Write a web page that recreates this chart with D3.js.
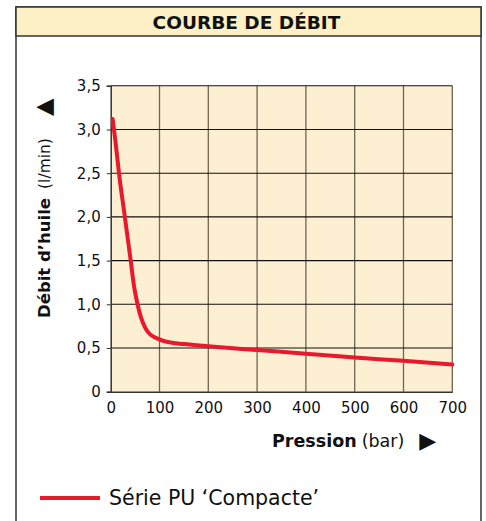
<!DOCTYPE html>
<html>
<head>
<meta charset="utf-8">
<script src="https://cdn.jsdelivr.net/npm/d3@7"></script>
<style>
  body { margin: 0; background: #fff; }
  text { font-family: "DejaVu Sans", sans-serif; fill: #111; }
</style>
</head>
<body>
<svg id="chart" width="486" height="521"></svg>
<script>
// data
const pressure = [4, 10, 17, 29, 41, 48, 55, 62, 70, 80, 95, 120, 150, 200, 300, 400, 500, 600, 700];
const flow     = [3.12, 2.85, 2.5, 2.0, 1.5, 1.2, 1.0, 0.85, 0.74, 0.66, 0.61, 0.565, 0.545, 0.52, 0.477, 0.435, 0.39, 0.355, 0.31];
const xTicks = [0, 100, 200, 300, 400, 500, 600, 700];
const yTicks = [0, 0.5, 1, 1.5, 2, 2.5, 3, 3.5];
const title = "COURBE DE DÉBIT";
const seriesName = "Série PU ‘Compacte’";

const svg = d3.select("#chart");
const margin = {left: 110.7, right: 33.7, top: 85.8, bottom: 129.3};
const w = 486, h = 521;

let x = d3.scaleLinear().domain([0, 700]).range([margin.left, w - margin.right]);
let y = d3.scaleLinear().domain([0, 3.5]).range([h - margin.bottom, margin.top]);

// frame + title band
svg.append("rect").attr("x", 16).attr("y", 7).attr("width", 465).attr("height", 530)
    .attr("fill", "#fff").attr("stroke", "#333").attr("stroke-width", 1.5);
svg.append("rect").attr("x", 16).attr("y", 7).attr("width", 465).attr("height", 29)
    .attr("fill", "#fcf0c4").attr("stroke", "#333").attr("stroke-width", 1.5);
svg.append("text").attr("x", 246.5).attr("y", 29).attr("text-anchor", "middle")
    .style("font-size", "18.5px").style("font-weight", "bold").text(title);

// plot background
svg.append("rect").attr("x", x(0)).attr("y", y(3.5))
    .attr("width", x(700) - x(0)).attr("height", y(0) - y(3.5))
    .attr("fill", "#fdefd2");

// grid
svg.append("g").selectAll("line").data(xTicks.slice(1)).join("line")
    .attr("x1", d => x(d)).attr("x2", d => x(d))
    .attr("y1", y(0)).attr("y2", y(3.5))
    .attr("stroke", "#6f6552").attr("stroke-width", 1.3);
svg.append("g").selectAll("line").data(yTicks.slice(1)).join("line")
    .attr("x1", x(0)).attr("x2", x(700))
    .attr("y1", d => y(d)).attr("y2", d => y(d))
    .attr("stroke", "#111").attr("stroke-width", 1.1);

// axes
let yAxis = d3.axisLeft(y).tickValues(yTicks).tickSize(4).tickPadding(6)
    .tickFormat(d => d === 0 ? "0" : d3.format(".1f")(d).replace(".", ","));
let yg = svg.append("g").attr("transform", `translate(${x(0)},0)`).call(yAxis);
yg.select(".domain").attr("stroke", "#333").attr("stroke-width", 1.5);
yg.selectAll(".tick line").attr("stroke", "#333");
yg.selectAll("text").style("font-size", "15px").attr("fill", "#111").style("font-family", "DejaVu Sans, sans-serif");

let xAxis = d3.axisBottom(x).tickValues(xTicks).tickSize(0).tickPadding(11);
let xg = svg.append("g").attr("transform", `translate(0,${y(0)})`).call(xAxis);
xg.select(".domain").attr("stroke", "#333").attr("stroke-width", 1.5);
xg.selectAll("text").style("font-size", "15px").attr("fill", "#111").style("font-family", "DejaVu Sans, sans-serif");

// curve
let line = d3.line().x((d, i) => x(pressure[i])).y(d => y(d)).curve(d3.curveMonotoneX);
svg.append("path").datum(flow).attr("d", line)
    .attr("fill", "none").attr("stroke", "#e8192c").attr("stroke-width", 4)
    .attr("stroke-linecap", "round");

// y title
let yt = svg.append("text").attr("transform", "translate(50,318) rotate(-90)")
    .style("font-size", "16.5px");
yt.append("tspan").style("font-weight", "bold").text("Débit d’huile");
yt.append("tspan").attr("dx", 9).style("font-size", "15.5px").text("(l/min)");
yt.append("tspan").attr("dx", 22).attr("dy", 1).style("font-size", "23px").text("▲");

// x title
let xt = svg.append("text").attr("x", 272).attr("y", 447)
    .style("font-size", "17.5px");
xt.append("tspan").style("font-weight", "bold").text("Pression");
xt.append("tspan").attr("dx", 5).text("(bar)");
xt.append("tspan").attr("dx", 15).attr("dy", 1).style("font-size", "22px").text("▶");

// legend
svg.append("line").attr("x1", 40).attr("x2", 100).attr("y1", 498).attr("y2", 498)
    .attr("stroke", "#e8192c").attr("stroke-width", 4);
svg.append("text").attr("x", 109).attr("y", 505).style("font-size", "20.5px").text(seriesName);
</script>
</body>
</html>
